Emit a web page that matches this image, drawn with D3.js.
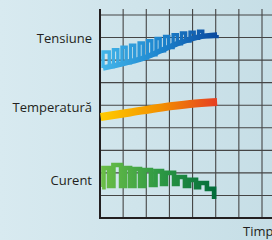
<!DOCTYPE html>
<html><head><meta charset="utf-8">
<script src="https://cdn.jsdelivr.net/npm/d3@7"></script>
<style>html,body{margin:0;padding:0;overflow:hidden;background:#cfe4eb}</style>
</head><body>
<script>
// ---- data ----
const seriesNames = ["Tensiune", "Temperatură", "Curent"];
const labelLevels = [79.4, 48.8, 16.8];
const gridX = [0, 10, 20, 30, 40, 50, 60, 70];
const gridY = [0, 10, 20, 30, 40, 50, 60, 70, 80, 90];
const xLabel = "Timp";

// Tensiune: trend band + square-wave pulses (step after)
const tensBandT = [1.3, 10.8, 19.4, 25.9, 33.7, 42.4, 50.6];
const tensBandV = [66.5, 68.7, 71.1, 74.0, 77.4, 80.2, 81.1];
const tensT = [1.3, 1.3, 4.0, 5.8, 7.7, 9.5, 11.3, 13.2, 15.0, 16.9, 18.7, 20.5, 22.4, 24.2, 26.0, 27.9, 29.7, 31.6, 33.4, 35.2, 37.0, 38.9, 40.7, 42.6, 44.4, 50.6];
const tensV = [66.5, 73.6, 67.1, 74.6, 68.0, 75.7, 68.8, 76.6, 69.9, 77.6, 70.9, 78.6, 72.4, 79.6, 74.1, 80.5, 75.6, 81.3, 77.2, 82.0, 78.5, 82.4, 79.7, 82.8, 80.5, 81.1];

// Temperatură
const tempT = [0.3, 13.0, 26.8, 38.9, 50.6];
const tempV = [44.8, 46.8, 49.0, 50.5, 51.4];

// Curent (step after)
const curT = [0.9, 1.5, 3.9, 5.8, 9.1, 10.8, 13.0, 14.9, 17.3, 19.2, 22.0, 24.0, 26.8, 28.5, 32.0, 33.5, 36.7, 38.5, 41.5, 42.8, 46.2, 49.3];
const curV = [13.7, 22.2, 14.2, 23.5, 14.2, 22.2, 14.2, 21.7, 14.2, 21.3, 14.6, 20.8, 15.1, 20.0, 15.1, 18.2, 14.2, 16.9, 13.7, 15.5, 12.9, 8.4];

// ---- drawing ----
const W = 272, H = 240;
const x = d3.scaleLinear().domain([0, 70]).range([100, 262]);
const y = d3.scaleLinear().domain([0, 90]).range([218, 15]);

const svg = d3.select("body").append("svg").attr("width", W).attr("height", H);
const defs = svg.append("defs");

const bg = defs.append("linearGradient").attr("id", "bg").attr("x1", 0).attr("x2", 1).attr("y1", 0).attr("y2", 0);
bg.append("stop").attr("offset", 0).attr("stop-color", "#d8eaf0");
bg.append("stop").attr("offset", 1).attr("stop-color", "#c6dee6");
svg.append("rect").attr("width", W).attr("height", H).attr("fill", "url(#bg)");

function grad(id, stops) {
  const g = defs.append("linearGradient").attr("id", id).attr("gradientUnits", "userSpaceOnUse")
    .attr("x1", x(0)).attr("x2", x(50.6)).attr("y1", 0).attr("y2", 0);
  stops.forEach(s => g.append("stop").attr("offset", s[0]).attr("stop-color", s[1]));
}
grad("gTens", [[0, "#45b7ea"], [0.5, "#1d86cf"], [1, "#0b4a9f"]]);
grad("gTemp", [[0, "#ffcc00"], [0.5, "#f39200"], [1, "#e63f22"]]);
grad("gCur", [[0, "#6dbf47"], [0.5, "#2f9a44"], [1, "#006b3a"]]);

// grid
const grid = svg.append("g").attr("stroke", "#454545").attr("stroke-width", 1.1);
grid.selectAll(".gx").data(gridX.slice(1)).join("line")
  .attr("x1", d => x(d)).attr("x2", d => x(d)).attr("y1", 9).attr("y2", y(0));
grid.selectAll(".gy").data(gridY.slice(1)).join("line")
  .attr("x1", x(0)).attr("x2", W).attr("y1", d => y(d)).attr("y2", d => y(d));

// axes
svg.append("line").attr("x1", x(0)).attr("x2", x(0)).attr("y1", 9).attr("y2", y(0) + 1)
  .attr("stroke", "#231f20").attr("stroke-width", 2);
svg.append("line").attr("x1", x(0) - 1).attr("x2", W).attr("y1", y(0)).attr("y2", y(0))
  .attr("stroke", "#231f20").attr("stroke-width", 2);

const zip = (a, b) => a.map((d, i) => [d, b[i]]);

const lineSmooth = d3.line().x(d => x(d[0])).y(d => y(d[1])).curve(d3.curveMonotoneX);
const lineStep = d3.line().x(d => x(d[0])).y(d => y(d[1])).curve(d3.curveStepAfter);

// Tensiune
svg.append("path").attr("d", lineSmooth(zip(tensBandT, tensBandV)))
  .attr("fill", "none").attr("stroke", "url(#gTens)").attr("stroke-width", 5.5);
svg.append("path").attr("d", lineStep(zip(tensT, tensV)))
  .attr("fill", "none").attr("stroke", "url(#gTens)").attr("stroke-width", 3.4)
  .attr("stroke-linejoin", "miter");

// Temperatura
svg.append("path").attr("d", lineSmooth(zip(tempT, tempV)))
  .attr("fill", "none").attr("stroke", "url(#gTemp)").attr("stroke-width", 8);

// Curent
svg.append("path").attr("d", lineStep(zip(curT, curV)))
  .attr("fill", "none").attr("stroke", "url(#gCur)").attr("stroke-width", 4.6)
  .attr("stroke-linejoin", "miter");

// labels
svg.selectAll(".lab").data(seriesNames).join("text")
  .attr("x", 92).attr("y", (d, i) => y(labelLevels[i]))
  .attr("dy", "0.35em").attr("text-anchor", "end")
  .attr("font-family", "Open Sans").attr("font-size", 13).attr("fill", "#231f20")
  .text(d => d);

svg.append("text").attr("x", 243).attr("y", 236)
  .attr("font-family", "Open Sans").attr("font-size", 13).attr("fill", "#231f20")
  .text(xLabel);
</script>
</body></html>
